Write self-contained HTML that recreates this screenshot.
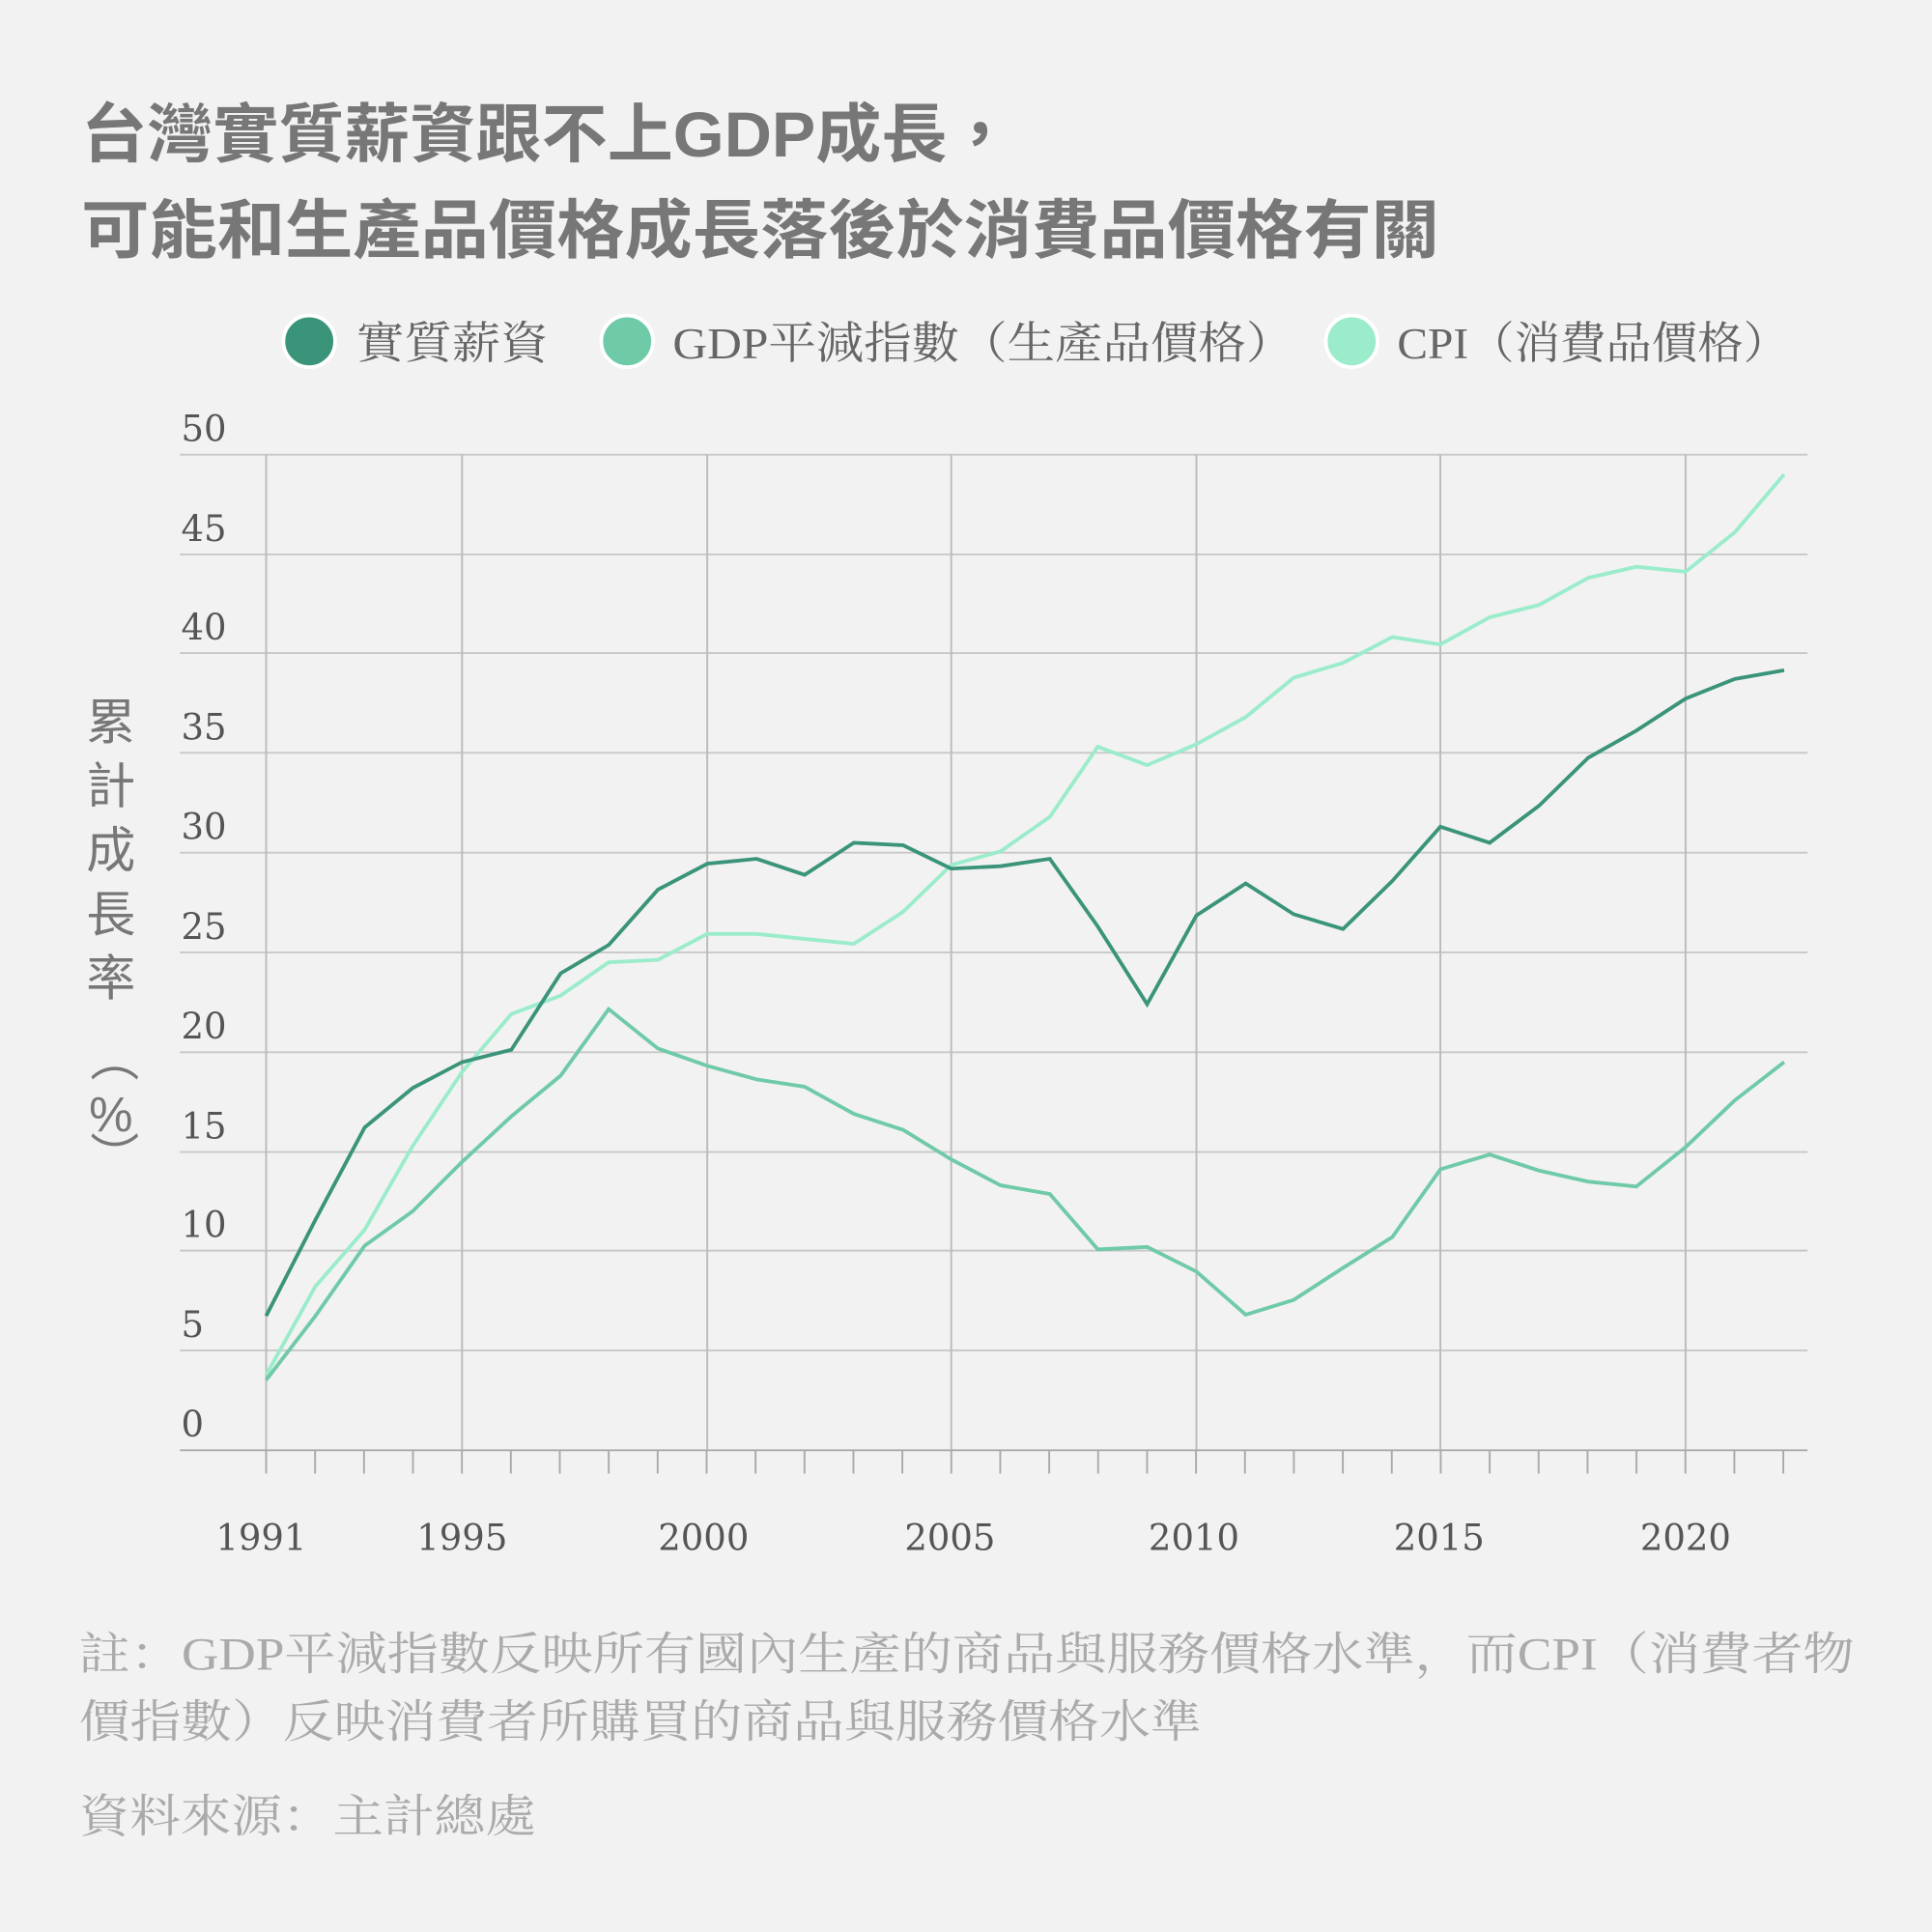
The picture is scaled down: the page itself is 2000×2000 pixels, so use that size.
<!DOCTYPE html>
<html><head><meta charset="utf-8"><style>
html,body{margin:0;padding:0;background:#f2f2f2;}
svg{display:block}
</style></head><body>
<svg width="2000" height="2000" viewBox="0 0 1568 1568" xmlns="http://www.w3.org/2000/svg">
<rect width="1568" height="1568" fill="#f2f2f2"/>
<g font-family="'Liberation Sans','Noto Sans CJK TC',sans-serif" font-weight="bold" font-size="52" fill="#777">
<text x="66" y="127" textLength="756" lengthAdjust="spacingAndGlyphs">台灣實質薪資跟不上GDP成長，</text>
<text x="66" y="205" textLength="1102" lengthAdjust="spacingAndGlyphs">可能和生產品價格成長落後於消費品價格有關</text>
</g>
<g font-family="'Liberation Serif','Noto Serif CJK SC','Noto Sans CJK TC',serif" font-size="36" fill="#666">
<circle cx="251" cy="277" r="21" fill="#3a947a" stroke="#fff" stroke-width="3"/>
<text x="289" y="291" textLength="156" lengthAdjust="spacingAndGlyphs">實質薪資</text>
<circle cx="509" cy="277" r="21" fill="#6fcaa8" stroke="#fff" stroke-width="3"/>
<text x="546" y="291" textLength="504" lengthAdjust="spacingAndGlyphs">GDP平減指數（生產品價格）</text>
<circle cx="1097" cy="277" r="21" fill="#9aeccb" stroke="#fff" stroke-width="3"/>
<text x="1134" y="291" textLength="318" lengthAdjust="spacingAndGlyphs">CPI（消費品價格）</text>
</g>
<g stroke="#c8c8c8" stroke-width="1.5">
<line x1="146" x2="1467" y1="369" y2="369"/><line x1="146" x2="1467" y1="450" y2="450"/>
<line x1="146" x2="1467" y1="530" y2="530"/><line x1="146" x2="1467" y1="611" y2="611"/>
<line x1="146" x2="1467" y1="692" y2="692"/><line x1="146" x2="1467" y1="773" y2="773"/>
<line x1="146" x2="1467" y1="854" y2="854"/><line x1="146" x2="1467" y1="935" y2="935"/>
<line x1="146" x2="1467" y1="1015" y2="1015"/><line x1="146" x2="1467" y1="1096" y2="1096"/>
</g>
<g stroke="#bbb" stroke-width="1.5">
<line x1="216" x2="216" y1="369" y2="1177"/><line x1="375" x2="375" y1="369" y2="1177"/>
<line x1="574" x2="574" y1="369" y2="1177"/><line x1="772" x2="772" y1="369" y2="1177"/>
<line x1="971" x2="971" y1="369" y2="1177"/><line x1="1169" x2="1169" y1="369" y2="1177"/>
<line x1="1368" x2="1368" y1="369" y2="1177"/>
</g>
<line x1="146" x2="1467" y1="1177" y2="1177" stroke="#aaa" stroke-width="1.5"/>
<g stroke="#aaa" stroke-width="1.5" id="ticks"></g>
<g font-family="'DejaVu Serif',serif" font-size="29" fill="#555">
<text x="147" y="358">50</text><text x="147" y="439">45</text><text x="147" y="519">40</text>
<text x="147" y="600">35</text><text x="147" y="681">30</text><text x="147" y="762">25</text>
<text x="147" y="843">20</text><text x="147" y="924">15</text><text x="147" y="1004">10</text>
<text x="147" y="1085">5</text><text x="147" y="1166">0</text>
</g>
<g font-family="'DejaVu Serif',serif" font-size="29" fill="#555" text-anchor="middle">
<text x="212" y="1258">1991</text><text x="375" y="1258">1995</text><text x="571" y="1258">2000</text>
<text x="771" y="1258">2005</text><text x="969" y="1258">2010</text><text x="1168" y="1258">2015</text>
<text x="1368" y="1258">2020</text>
</g>
<g font-family="'Liberation Sans','Noto Sans CJK TC',sans-serif" font-size="40" fill="#777" text-anchor="middle">
<text x="90" y="600">累</text><text x="90" y="652">計</text><text x="90" y="704">成</text>
<text x="90" y="756">長</text><text x="90" y="808">率</text>
<text x="90" y="870" transform="rotate(90 90 858)">（</text>
<text x="90" y="918">%</text>
<text x="90" y="950" transform="rotate(90 90 938)">）</text>
</g>
<polyline fill="none" stroke="#9aeccb" stroke-width="3" points="216,1116 256,1044 296,998 335,930 375,870 415,823 455,808 494,781 534,779 574,758 614,758 653,762 693,766 733,740 772,702 812,691 852,663 891,606 931,621 971,604 1011,582 1050,550 1090,538 1130,517 1169,523 1209,501 1249,491 1289,469 1328,460 1368,464 1408,432 1448,385"/>
<polyline fill="none" stroke="#6fcaa8" stroke-width="3" points="216,1120 256,1068 296,1011 335,983 375,943 415,906 455,873 494,819 534,851 574,865 614,876 653,882 693,904 733,917 772,941 812,962 852,969 891,1014 931,1012 971,1032 1011,1067 1050,1055 1090,1029 1130,1004 1169,949 1209,937 1249,950 1289,959 1328,963 1368,931 1408,893 1448,862"/>
<polyline fill="none" stroke="#3a947a" stroke-width="3" points="216,1068 256,990 296,915 335,883 375,862 415,852 455,790 494,767 534,722 574,701 614,697 653,710 693,684 733,686 772,705 812,703 852,697 891,752 931,815 971,743 1011,717 1050,742 1090,754 1130,715 1169,671 1209,684 1249,654 1289,615 1328,593 1368,567 1408,551 1448,544"/>
<g font-family="'Liberation Serif','Noto Serif CJK SC','Noto Sans CJK TC',serif" font-size="37" fill="#aaa">
<text x="64" y="1355" textLength="1441" lengthAdjust="spacingAndGlyphs">註：GDP平減指數反映所有國內生產的商品與服務價格水準，而CPI（消費者物</text>
<text x="64" y="1410" textLength="911" lengthAdjust="spacingAndGlyphs">價指數）反映消費者所購買的商品與服務價格水準</text>
<text x="64" y="1487" textLength="371" lengthAdjust="spacingAndGlyphs">資料來源：主計總處</text>
</g>
<script>
var g=document.getElementById('ticks');
for(var i=0;i<32;i++){var x=216+i*39.72;var l=document.createElementNS('http://www.w3.org/2000/svg','line');
l.setAttribute('x1',x);l.setAttribute('x2',x);l.setAttribute('y1',1177);l.setAttribute('y2',1196);g.appendChild(l);}
</script>
</svg>
</body></html>
